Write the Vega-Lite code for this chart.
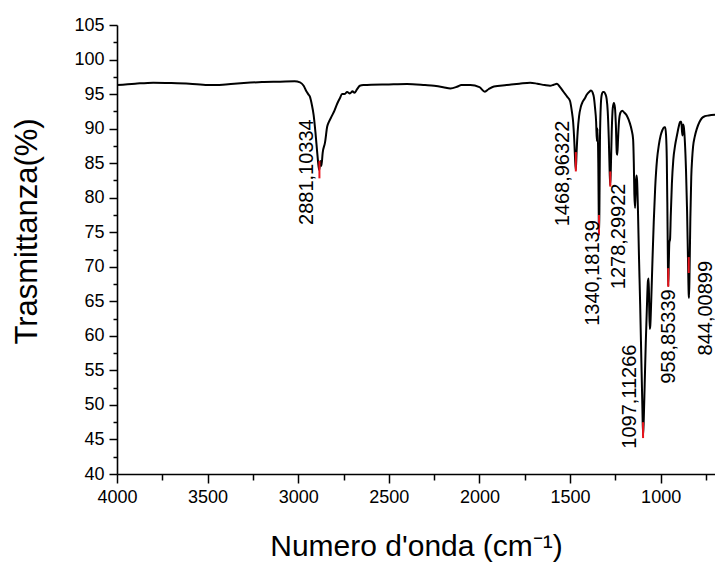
{
  "$schema": "https://vega.github.io/schema/vega-lite/v6.json",
  "width": 598,
  "height": 449,
  "autosize": {"type": "none"},
  "padding": {"left": 117, "top": 25, "right": 0, "bottom": 92},
  "background": "white",
  "config": {
    "view": {"stroke": null},
    "font": "Liberation Sans",
    "axis": {"domainColor": "black", "domainWidth": 1.6, "tickColor": "black", "tickWidth": 1.5, "grid": false, "labelColor": "black", "titleColor": "black", "labelFont": "Liberation Sans", "titleFont": "Liberation Sans", "titleFontWeight": "normal"}
  },
  "datasets": {
    "spectrum": [
      {"w": 4000, "t": 96.3}, {"w": 3900, "t": 96.5}, {"w": 3800, "t": 96.65}, {"w": 3700, "t": 96.6}, {"w": 3600, "t": 96.5},
      {"w": 3500, "t": 96.3}, {"w": 3450, "t": 96.3}, {"w": 3400, "t": 96.4}, {"w": 3300, "t": 96.6}, {"w": 3200, "t": 96.75},
      {"w": 3100, "t": 96.8}, {"w": 3020, "t": 96.85}, {"w": 2990, "t": 96.7}, {"w": 2970, "t": 96.2}, {"w": 2955, "t": 95.4},
      {"w": 2945, "t": 95.0}, {"w": 2935, "t": 94.6}, {"w": 2925, "t": 93.5}, {"w": 2915, "t": 92.0}, {"w": 2905, "t": 89.5},
      {"w": 2895, "t": 86.5}, {"w": 2888, "t": 84.6}, {"w": 2884, "t": 84.0}, {"w": 2878, "t": 85.3}, {"w": 2872, "t": 84.6},
      {"w": 2865, "t": 86.5}, {"w": 2852, "t": 88.0}, {"w": 2840, "t": 90.3}, {"w": 2830, "t": 91.0}, {"w": 2815, "t": 91.8},
      {"w": 2800, "t": 92.6}, {"w": 2785, "t": 93.6}, {"w": 2770, "t": 94.4}, {"w": 2758, "t": 95.0}, {"w": 2745, "t": 95.0},
      {"w": 2730, "t": 95.3}, {"w": 2715, "t": 95.1}, {"w": 2700, "t": 95.4}, {"w": 2690, "t": 95.2}, {"w": 2675, "t": 95.7},
      {"w": 2660, "t": 96.2}, {"w": 2640, "t": 96.3}, {"w": 2500, "t": 96.4}, {"w": 2400, "t": 96.45}, {"w": 2300, "t": 96.3},
      {"w": 2250, "t": 96.2}, {"w": 2200, "t": 96.0}, {"w": 2160, "t": 95.8}, {"w": 2120, "t": 96.1}, {"w": 2100, "t": 96.3},
      {"w": 2050, "t": 96.3}, {"w": 2000, "t": 96.0}, {"w": 1970, "t": 95.35}, {"w": 1950, "t": 95.7}, {"w": 1920, "t": 96.1},
      {"w": 1850, "t": 96.3}, {"w": 1780, "t": 96.5}, {"w": 1720, "t": 96.65}, {"w": 1680, "t": 96.5}, {"w": 1640, "t": 96.3},
      {"w": 1610, "t": 96.2}, {"w": 1590, "t": 96.35}, {"w": 1572, "t": 96.5}, {"w": 1555, "t": 96.0}, {"w": 1535, "t": 95.3},
      {"w": 1515, "t": 94.6}, {"w": 1500, "t": 94.0}, {"w": 1490, "t": 92.5}, {"w": 1483, "t": 91.0}, {"w": 1477, "t": 88.5},
      {"w": 1472, "t": 85.5}, {"w": 1468, "t": 84.0}, {"w": 1464, "t": 86.5}, {"w": 1458, "t": 89.5}, {"w": 1450, "t": 91.8},
      {"w": 1440, "t": 93.2}, {"w": 1430, "t": 93.9}, {"w": 1418, "t": 94.4}, {"w": 1408, "t": 94.9}, {"w": 1395, "t": 95.3},
      {"w": 1384, "t": 95.5}, {"w": 1375, "t": 95.2}, {"w": 1368, "t": 94.5}, {"w": 1362, "t": 93.0}, {"w": 1356, "t": 91.0},
      {"w": 1352, "t": 88.2}, {"w": 1348, "t": 90.0}, {"w": 1344, "t": 85.0}, {"w": 1341, "t": 76.0}, {"w": 1340, "t": 74.6},
      {"w": 1338, "t": 78.0}, {"w": 1335, "t": 88.0}, {"w": 1330, "t": 93.5}, {"w": 1325, "t": 94.9}, {"w": 1318, "t": 95.3},
      {"w": 1312, "t": 95.3}, {"w": 1305, "t": 95.0}, {"w": 1298, "t": 94.3}, {"w": 1292, "t": 92.5}, {"w": 1286, "t": 88.5},
      {"w": 1281, "t": 83.5}, {"w": 1278, "t": 81.8}, {"w": 1275, "t": 84.0}, {"w": 1270, "t": 89.5}, {"w": 1264, "t": 93.0},
      {"w": 1258, "t": 93.7}, {"w": 1252, "t": 93.0}, {"w": 1247, "t": 90.5}, {"w": 1242, "t": 86.5}, {"w": 1239, "t": 86.2},
      {"w": 1235, "t": 88.5}, {"w": 1230, "t": 91.0}, {"w": 1222, "t": 92.3}, {"w": 1212, "t": 92.6}, {"w": 1200, "t": 92.3},
      {"w": 1185, "t": 91.8}, {"w": 1170, "t": 90.8}, {"w": 1160, "t": 89.8}, {"w": 1152, "t": 88.5}, {"w": 1148, "t": 85.0},
      {"w": 1145, "t": 80.5}, {"w": 1141, "t": 78.5}, {"w": 1137, "t": 82.0}, {"w": 1133, "t": 83.2}, {"w": 1130, "t": 82.5},
      {"w": 1125, "t": 78.0}, {"w": 1120, "t": 72.0}, {"w": 1113, "t": 64.6}, {"w": 1106, "t": 56.0}, {"w": 1101, "t": 50.0},
      {"w": 1097, "t": 45.5}, {"w": 1093, "t": 48.0}, {"w": 1088, "t": 53.0}, {"w": 1082, "t": 59.0}, {"w": 1076, "t": 64.0},
      {"w": 1070, "t": 68.0}, {"w": 1066, "t": 68.3}, {"w": 1063, "t": 64.0}, {"w": 1060, "t": 61.0}, {"w": 1057, "t": 61.5},
      {"w": 1052, "t": 65.0}, {"w": 1045, "t": 71.0}, {"w": 1038, "t": 76.5}, {"w": 1030, "t": 81.5}, {"w": 1020, "t": 85.5},
      {"w": 1010, "t": 87.6}, {"w": 1000, "t": 89.0}, {"w": 990, "t": 89.8}, {"w": 980, "t": 90.2}, {"w": 975, "t": 90.2},
      {"w": 970, "t": 89.0}, {"w": 966, "t": 85.5}, {"w": 963, "t": 79.0}, {"w": 960, "t": 71.0}, {"w": 958, "t": 67.2},
      {"w": 955, "t": 70.5}, {"w": 952, "t": 73.5}, {"w": 948, "t": 74.0}, {"w": 944, "t": 77.5}, {"w": 938, "t": 82.0},
      {"w": 930, "t": 85.5}, {"w": 920, "t": 87.6}, {"w": 910, "t": 89.0}, {"w": 900, "t": 90.3}, {"w": 892, "t": 91.0},
      {"w": 886, "t": 91.0}, {"w": 882, "t": 89.6}, {"w": 879, "t": 89.0}, {"w": 876, "t": 90.6}, {"w": 872, "t": 90.2},
      {"w": 866, "t": 88.0}, {"w": 860, "t": 84.0}, {"w": 854, "t": 78.0}, {"w": 849, "t": 71.0}, {"w": 845, "t": 66.0},
      {"w": 843, "t": 65.5}, {"w": 840, "t": 70.0}, {"w": 836, "t": 77.0}, {"w": 831, "t": 83.0}, {"w": 826, "t": 85.7},
      {"w": 821, "t": 87.4}, {"w": 812, "t": 88.8}, {"w": 800, "t": 90.0}, {"w": 785, "t": 91.0}, {"w": 773, "t": 91.5},
      {"w": 755, "t": 91.8}, {"w": 735, "t": 91.9}, {"w": 700, "t": 92.0}
    ],
    "markers": [
      {"w": 2883, "t": 85.3, "t2": 82.8},
      {"w": 1468, "t": 86.6, "t2": 83.8},
      {"w": 1340, "t": 77.5, "t2": 74.6},
      {"w": 1278, "t": 83.8, "t2": 81.6},
      {"w": 1097, "t": 47.5, "t2": 45.2},
      {"w": 958, "t": 69.8, "t2": 67.1},
      {"w": 845, "t": 71.4, "t2": 69.1}
    ],
    "labels": [
      {"w": 2953, "t": 83.7, "label": "2881,10334"},
      {"w": 1539, "t": 83.5, "label": "1468,96322"},
      {"w": 1375, "t": 69.1, "label": "1340,18139"},
      {"w": 1230, "t": 74.4, "label": "1278,29922"},
      {"w": 1169, "t": 51.2, "label": "1097,11266"},
      {"w": 954, "t": 59.9, "label": "958,85339"},
      {"w": 751, "t": 64.0, "label": "844,00899"}
    ]
  },
  "encoding": {
    "x": {
      "field": "w", "type": "quantitative",
      "scale": {"domain": [700, 4000], "reverse": true, "nice": false, "zero": false},
      "axis": {
        "title": "Numero d'onda (cm⁻¹)",
        "values": [4000, 3750, 3500, 3250, 3000, 2750, 2500, 2250, 2000, 1750, 1500, 1250, 1000, 750],
        "labelExpr": "datum.value % 500 === 0 ? datum.value : ''",
        "tickSize": {"condition": {"test": "datum.value % 500 === 0", "value": 9}, "value": 6},
        "labelFontSize": 18, "labelPadding": 5, "labelFlush": false, "labelOverlap": false,
        "titleFontSize": 30, "titleY": 72, "titleBaseline": "middle", "titlePadding": 0
      }
    },
    "y": {
      "field": "t", "type": "quantitative",
      "scale": {"domain": [40, 105], "nice": false, "zero": false},
      "axis": {
        "title": "Trasmittanza(%)",
        "values": [40, 42.5, 45, 47.5, 50, 52.5, 55, 57.5, 60, 62.5, 65, 67.5, 70, 72.5, 75, 77.5, 80, 82.5, 85, 87.5, 90, 92.5, 95, 97.5, 100, 102.5, 105],
        "labelExpr": "(datum.value % 5 == 0) ? format(datum.value, 'd') : ''",
        "tickSize": {"condition": {"test": "datum.value % 5 == 0", "value": 8}, "value": 4},
        "labelFontSize": 18, "labelPadding": 5, "labelOverlap": false, "labelBound": false, "labelFlush": false,
        "titleFontSize": 31, "titleAngle": -90, "titleX": -90, "titleY": 206, "titleAlign": "center", "titleBaseline": "middle"
      }
    }
  },
  "layer": [
    {
      "data": {"name": "spectrum"},
      "mark": {"type": "line", "color": "black", "strokeWidth": 2, "clip": true, "interpolate": "monotone"}
    },
    {
      "data": {"name": "markers"},
      "mark": {"type": "rule", "color": "#e8141c", "strokeWidth": 2},
      "encoding": {"y2": {"field": "t2"}}
    },
    {
      "data": {"name": "labels"},
      "mark": {"type": "text", "angle": 270, "align": "center", "baseline": "middle", "fontSize": 20, "font": "Liberation Sans", "color": "black"},
      "encoding": {"text": {"field": "label"}}
    }
  ]
}
